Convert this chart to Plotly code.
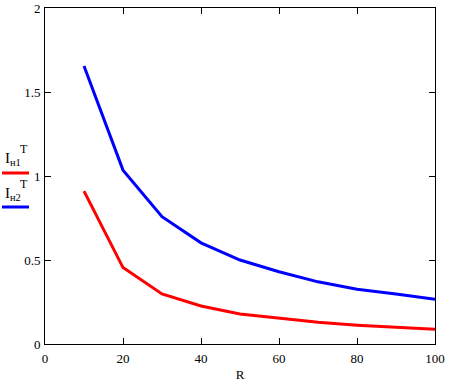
import plotly.graph_objects as go

R = [10, 20, 30, 40, 50, 60, 70, 80, 90, 100]
I_n1 = [0.91, 0.455, 0.298, 0.226, 0.179, 0.153, 0.129, 0.112, 0.099, 0.088]
I_n2 = [1.655, 1.035, 0.758, 0.602, 0.50, 0.43, 0.37, 0.326, 0.297, 0.266]

x_ticks = [0, 20, 40, 60, 80, 100]
y_ticks = [0, 0.5, 1, 1.5, 2]
y_ticklabels = ["0", "0.5", "1", "1.5", "2"]

W, H = 462, 382
L, Rm, T, B = 45, 27, 8, 38
pw, ph = W - L - Rm, H - T - B

def px(x):
    return (x - L) / pw

def py(y):
    return (H - B - y) / ph

font = dict(family="Liberation Serif", size=13, color="#000000")
leg_font = dict(family="Liberation Serif", size=15, color="#000000")

fig = go.Figure()
fig.add_trace(go.Scatter(x=R, y=I_n1, mode="lines", line=dict(color="#ff0000", width=3),
                         showlegend=False, hoverinfo="skip"))
fig.add_trace(go.Scatter(x=R, y=I_n2, mode="lines", line=dict(color="#0000ff", width=3),
                         showlegend=False, hoverinfo="skip"))

axis_common = dict(showgrid=False, zeroline=False, showline=True, linecolor="#000000",
                   linewidth=1, mirror="ticks", ticks="inside", ticklen=6, tickwidth=1,
                   tickcolor="#000000", tickfont=font, automargin=False)

fig.update_xaxes(range=[0, 100], tickvals=x_ticks, ticktext=[str(v) for v in x_ticks],
                 title=dict(text="R", font=font, standoff=8), ticklabelstandoff=2, **axis_common)
fig.update_yaxes(range=[0, 2], tickvals=y_ticks, ticktext=y_ticklabels, ticklabelstandoff=1,
                 **axis_common)

# legend (Mathcad-style, left of the plot)
leg = [("I<sub>н1</sub>", "#ff0000", 159, 173), ("I<sub>н2</sub>", "#0000ff", 194, 207)]
for txt, col, ty, ly in leg:
    fig.add_annotation(text=txt, x=px(3), y=py(ty), xref="paper", yref="paper",
                       xanchor="left", yanchor="middle", showarrow=False, font=leg_font)
    fig.add_annotation(text="T", x=px(18), y=py(ty - 10), xref="paper", yref="paper",
                       xanchor="left", yanchor="middle", showarrow=False,
                       font=dict(family="Liberation Serif", size=12, color="#000000"))
    fig.add_shape(type="line", xref="paper", yref="paper", x0=px(2), x1=px(29),
                  y0=py(ly), y1=py(ly), line=dict(color=col, width=3))

fig.update_layout(template="none", width=W, height=H, margin=dict(l=L, r=Rm, t=T, b=B),
                  paper_bgcolor="#ffffff", plot_bgcolor="#ffffff", showlegend=False)

fig.write_html("out.html")
